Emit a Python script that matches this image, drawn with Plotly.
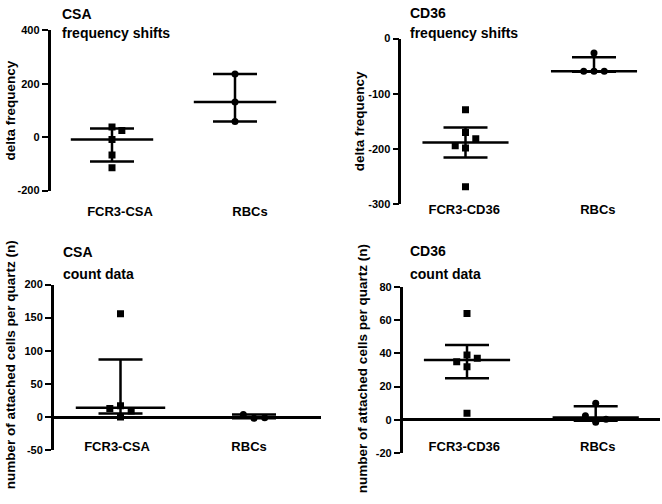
import plotly.graph_objects as go

W, H = 662, 504
FONT = "Liberation Sans, Arial, sans-serif"

# ---------------- data ----------------
# Panel A: CSA frequency shifts
csa_freq_cats = ["FCR3-CSA", "RBCs"]
csa_freq_fcr3 = [38, 25, -9, -67, -115]
csa_freq_rbc = [237, 132, 59]
csa_freq_median = [-9, 132]
csa_freq_low = [-91, 59]
csa_freq_high = [32, 237]

# Panel B: CD36 frequency shifts
cd36_freq_cats = ["FCR3-CD36", "RBCs"]
cd36_freq_fcr3 = [-129, -170, -181, -194, -198, -268]
cd36_freq_rbc = [-26, -59, -59, -59]
cd36_freq_median = [-188, -59]
cd36_freq_low = [-215, -60]
cd36_freq_high = [-161, -34]

# Panel C: CSA count data
csa_count_cats = ["FCR3-CSA", "RBCs"]
csa_count_fcr3 = [156, 13, 17, 9, 0]
csa_count_rbc = [4, -2, -1]
csa_count_median = [14, -1]
csa_count_low = [5.5, -2]
csa_count_high = [87, 4]

# Panel D: CD36 count data
cd36_count_cats = ["FCR3-CD36", "RBCs"]
cd36_count_fcr3 = [64, 39, 37, 35, 32, 4]
cd36_count_rbc = [10, 2.4, -1.5, 0.4]
cd36_count_median = [36, 1.4]
cd36_count_low = [25, -0.5]
cd36_count_high = [45, 8.2]

# y tick labels
freq_csa_ticks = [-200, 0, 200, 400]
freq_cd36_ticks = [-300, -200, -100, 0]
count_csa_ticks = [-50, 0, 50, 100, 150, 200]
count_cd36_ticks = [-20, 0, 20, 40, 60, 80]

# ---------------- styling / layout (positions, not data) ----------------
JIT = 0.08          # horizontal jitter step (category units)
MED_HALF = 0.335    # half width of median line (category units)
CAP_PX = 22         # half width of error-bar caps (px)

panels = [
    dict(n="", cats=csa_freq_cats, groups=[csa_freq_fcr3, csa_freq_rbc],
         jit=[[0, 1, 0, 0, 0], [0, 0, 0]],
         med=csa_freq_median, lo=csa_freq_low, hi=csa_freq_high,
         yticks=freq_csa_ticks, yrange=[-200, 400],
         xpx=(50.5, 296.5), ypx=(25, 189), xlabpos=[0.065, 1.122], xaxpos=201,
         zero=False, t1="CSA", t2="frequency shifts", tx=60, ty1=8, ty2=28,
         ytitle="delta frequency", ytx=10, yty=107),
    dict(n="2", cats=cd36_freq_cats, groups=[cd36_freq_fcr3, cd36_freq_rbc],
         jit=[[0, 0, 1, -1, 0, 0], [0, -1, 0, 1]],
         med=cd36_freq_median, lo=cd36_freq_low, hi=cd36_freq_high,
         yticks=freq_cd36_ticks, yrange=[-300, 0],
         xpx=(401.25, 658.25), ypx=(33.3, 203.3), xlabpos=[-0.01, 1.03], xaxpos=199,
         zero=False, t1="CD36", t2="frequency shifts", tx=408, ty1=7, ty2=28,
         ytitle="delta frequency", ytx=359, yty=118),
    dict(n="3", cats=csa_count_cats, groups=[csa_count_fcr3, csa_count_rbc],
         jit=[[0, -1, 0, 1, 0], [-1, 0, 1]],
         med=csa_count_median, lo=csa_count_low, hi=csa_count_high,
         yticks=count_csa_ticks, yrange=[-50, 200],
         xpx=(53.75, 320.75), ypx=(285.3, 455), xlabpos=[-0.026, 0.963], xaxpos=442,
         zero=True, t1="CSA", t2="count data", tx=61, ty1=252, ty2=275,
         ytitle="number of attached cells per quartz (n)", ytx=10, yty=368),
    dict(n="4", cats=cd36_count_cats, groups=[cd36_count_fcr3, cd36_count_rbc],
         jit=[[0, 0, 1, -1, 0, 0], [0, -1, 0, 1]],
         med=cd36_count_median, lo=cd36_count_low, hi=cd36_count_high,
         yticks=count_cd36_ticks, yrange=[-20, 80],
         xpx=(402.65, 660.05), ypx=(287.7, 458), xlabpos=[-0.021, 1.016], xaxpos=441,
         zero=True, t1="CD36", t2="count data", tx=408, ty1=251, ty2=275,
         ytitle="number of attached cells per quartz (n)", ytx=362, yty=372),
]

symbols = ["square", "circle"]
fig = go.Figure()
layout = dict(width=W, height=H, margin=dict(l=0, r=0, t=0, b=0),
              paper_bgcolor="white", plot_bgcolor="white", showlegend=False,
              annotations=[])

for p in panels:
    xa, ya = "x" + p["n"], "y" + p["n"]
    for gi, vals in enumerate(p["groups"]):
        # error bar (interquartile range)
        fig.add_trace(go.Scatter(
            x=[gi], y=[p["med"][gi]], mode="markers", xaxis=xa, yaxis=ya,
            marker=dict(size=1, color="rgba(0,0,0,0)"),
            error_y=dict(type="data", symmetric=False,
                         array=[p["hi"][gi] - p["med"][gi]],
                         arrayminus=[p["med"][gi] - p["lo"][gi]],
                         color="black", thickness=2.5, width=CAP_PX),
            hoverinfo="skip"))
        # median line
        fig.add_trace(go.Scatter(
            x=[gi - MED_HALF, gi + MED_HALF], y=[p["med"][gi], p["med"][gi]],
            mode="lines", xaxis=xa, yaxis=ya,
            line=dict(color="black", width=2.5), hoverinfo="skip"))
        # points
        fig.add_trace(go.Scatter(
            x=[gi + j * JIT for j in p["jit"][gi]], y=vals,
            mode="markers", xaxis=xa, yaxis=ya,
            marker=dict(symbol=symbols[gi], size=7, color="black",
                        line=dict(width=0)),
            name=p["cats"][gi]))

    xkey = "xaxis" + p["n"]
    ykey = "yaxis" + p["n"]
    layout[xkey] = dict(
        domain=[p["xpx"][0] / W, p["xpx"][1] / W], range=[-0.5, 1.5],
        anchor="free", position=1 - p["xaxpos"] / H,
        showline=False, showgrid=False, zeroline=False, ticks="",
        tickmode="array", tickvals=p["xlabpos"], ticktext=p["cats"],
        tickfont=dict(family=FONT, size=13, color="black", weight="bold"),
        fixedrange=True)
    layout[ykey] = dict(
        domain=[1 - p["ypx"][1] / H, 1 - p["ypx"][0] / H], range=p["yrange"],
        anchor=xa, showline=True, linewidth=2.5, linecolor="black",
        ticks="outside", ticklen=6, tickwidth=2, tickcolor="black",
        tickmode="array", tickvals=p["yticks"],
        ticktext=[str(v) for v in p["yticks"]],
        tickfont=dict(family=FONT, size=11, color="black", weight="bold"),
        showgrid=False, zeroline=p["zero"], zerolinecolor="black",
        zerolinewidth=2.5, fixedrange=True)

    tfont = dict(family=FONT, size=14, color="black", weight="bold")
    for txt, ty in ((p["t1"], p["ty1"]), (p["t2"], p["ty2"])):
        layout["annotations"].append(dict(
            text=txt, xref="paper", yref="paper", x=p["tx"] / W, y=1 - ty / H,
            xanchor="left", yanchor="middle", showarrow=False, font=tfont))
    layout["annotations"].append(dict(
        text=p["ytitle"], xref="paper", yref="paper",
        x=p["ytx"] / W, y=1 - p["yty"] / H, xanchor="center", yanchor="middle",
        textangle=-90, showarrow=False,
        font=dict(family=FONT, size=13.5, color="black", weight="bold")))

fig.update_layout(**layout)
fig.write_html(
    "out.html",
    config={"displayModeBar": False},
    post_script="document.body.style.margin='0';document.body.style.overflow='hidden';",
)
